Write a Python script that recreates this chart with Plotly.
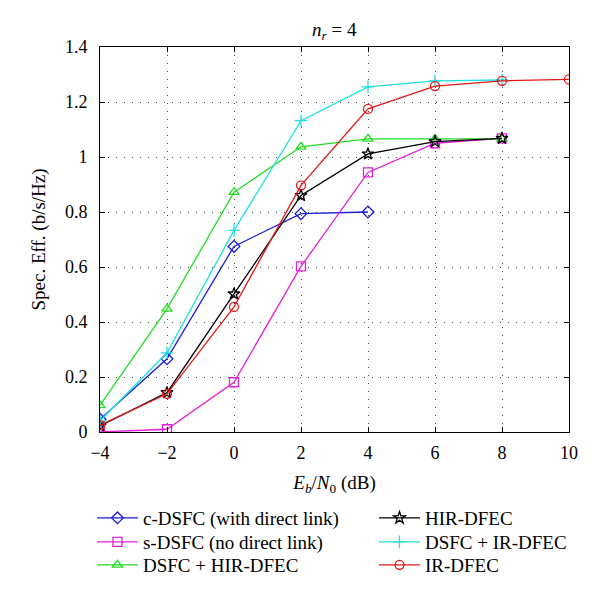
import plotly.graph_objects as go

snr = [-4, -2, 0, 2, 4, 6, 8, 10]

c_dsfc = [0.046, 0.266, 0.675, 0.794, 0.80]
s_dsfc = [0.0, 0.01, 0.181, 0.602, 0.944, 1.05, 1.068]
dsfc_hir = [0.097, 0.448, 0.872, 1.037, 1.066, 1.066, 1.066]
hir_dfec = [0.022, 0.143, 0.502, 0.86, 1.011, 1.056, 1.068]
dsfc_ir = [0.04, 0.288, 0.733, 1.132, 1.255, 1.277, 1.28]
ir_dfec = [0.025, 0.139, 0.455, 0.897, 1.175, 1.258, 1.277, 1.282]

series = [
    ("c-DSFC (with direct link)", c_dsfc, "#1a1ad8", "diamond-open"),
    ("s-DSFC (no direct link)", s_dsfc, "#e020d8", "square-open"),
    ("DSFC + HIR-DFEC", dsfc_hir, "#22dd22", "triangle-up-open"),
    ("HIR-DFEC", hir_dfec, "#000000", "star-open"),
    ("DSFC + IR-DFEC", dsfc_ir, "#22e0e0", "cross-thin-open"),
    ("IR-DFEC", ir_dfec, "#e01818", "circle-open"),
]

FONT = "Liberation Serif"

# legend slots: two columns, three rows (paper coordinates)
col_x = [-0.0171, 0.5842]
row_y = [-0.2202, -0.2824, -0.3420]

fig = go.Figure()
legend_layout = {}
for i, (name, ys, color, sym) in enumerate(series):
    lg = "legend" if i == 0 else f"legend{i + 1}"
    fig.add_trace(go.Scatter(
        x=snr[:len(ys)], y=ys, name=name, mode="lines+markers",
        line=dict(color=color, width=1.3),
        marker=dict(symbol=sym, size=9, color=color, line=dict(color=color, width=1.3)),
        legend=lg, showlegend=True,
    ))
    legend_layout[lg] = dict(
        x=col_x[i // 3], y=row_y[i % 3], xanchor="left", yanchor="middle",
        font=dict(family=FONT, size=19, color="black"),
        bgcolor="rgba(0,0,0,0)", itemwidth=41,
    )

axis_common = dict(
    showline=True, linecolor="black", linewidth=1, mirror="ticks",
    ticks="inside", ticklen=5, tickcolor="black", automargin=False,
    showgrid=True, gridcolor="#444444", griddash="1px,7px", gridwidth=1,
    zeroline=False, tickfont=dict(family=FONT, size=18, color="black"),
)

fig.update_xaxes(range=[-4, 10], tickvals=[-4, -2, 0, 2, 4, 6, 8, 10],
                 ticktext=["\u22124", "\u22122", "0", "2", "4", "6", "8", "10"],
                 ticklabelstandoff=4,
                 title=dict(text="<i>E</i><sub><i>b</i></sub>/<i>N</i><sub>0</sub> (dB)",
                            font=dict(family=FONT, size=19, color="black"), standoff=14),
                 **axis_common)
fig.update_yaxes(range=[0, 1.4], tickvals=[0, 0.2, 0.4, 0.6, 0.8, 1, 1.2, 1.4],
                 ticktext=["0", "0.2", "0.4", "0.6", "0.8", "1", "1.2", "1.4"],
                 ticklabelstandoff=8,
                 title=dict(text="Spec. Eff. (b/s/Hz)",
                            font=dict(family=FONT, size=19, color="black"), standoff=14),
                 **axis_common)

# browser adds an 8px body margin; figure is sized/margined to compensate
fig.update_layout(
    width=592, height=587,
    margin=dict(l=92, r=31, t=39, b=162),
    plot_bgcolor="white", paper_bgcolor="white",
    showlegend=True,
    font=dict(family=FONT, color="black"),
    annotations=[dict(text="<i>n</i><sub><i>r</i></sub> = 4", x=0.5, y=1.0, xref="paper", yref="paper",
                      xanchor="center", yanchor="bottom", yshift=2, showarrow=False,
                      font=dict(family=FONT, size=19, color="black"))],
    **legend_layout,
)

fig.write_html("out.html")
